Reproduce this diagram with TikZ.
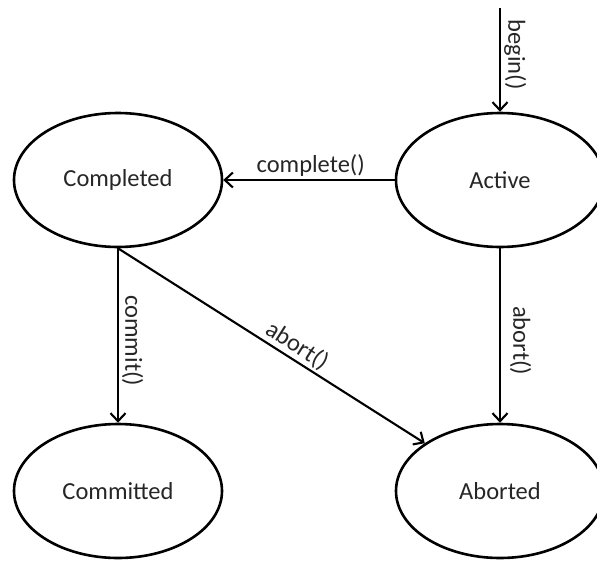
\documentclass[tikz,border=0pt]{standalone}
\usepackage{fontspec}
\setmainfont{Carlito}
\usetikzlibrary{shapes.geometric,arrows.meta}
\begin{document}
\begin{tikzpicture}[x=1pt,y=-1pt,
  state/.style={ellipse,draw,line width=2.6pt,minimum width=208pt,minimum height=134pt,
    inner sep=0pt,font=\fontsize{24.5}{29}\selectfont,text=black!85},
  trans/.style={draw,line width=2.1pt,-{Straight Barb[length=8pt,width=15pt,line width=2.1pt]}},
  lbl/.style={font=\fontsize{24.5}{29}\selectfont,inner sep=3pt,text=black!85}]
\useasboundingbox (0,0) rectangle (597,560);
\clip (0,0) rectangle (597,560);
% states
\node[state] (completed) at (118,180) {Completed};
\node[state] (active)    at (500,180) {Active};
\node[state] (committed) at (118,491) {Committed};
\node[state] (aborted)   at (500,491) {Aborted};
% entry point
\coordinate (entry) at (500,8);
% transitions
\draw[trans] (entry) -- (active.north)
  node[lbl,pos=0.45,rotate=-90,anchor=south] {begin()};
\draw[trans] (active.west) -- (completed.east)
  node[lbl,pos=0.49,anchor=south] {complete()};
\draw[trans] (completed.south) -- (committed.north)
  node[lbl,pos=0.53,rotate=-90,anchor=south] {commit()};
\draw[trans] (completed.south) -- (aborted)
  node[lbl,pos=0.56,sloped,anchor=south,inner sep=2pt] {abort()};
\draw[trans] (active.south) -- (aborted.north)
  node[lbl,pos=0.53,rotate=-90,anchor=south,inner ysep=9pt] {abort()};
\end{tikzpicture}
\end{document}
